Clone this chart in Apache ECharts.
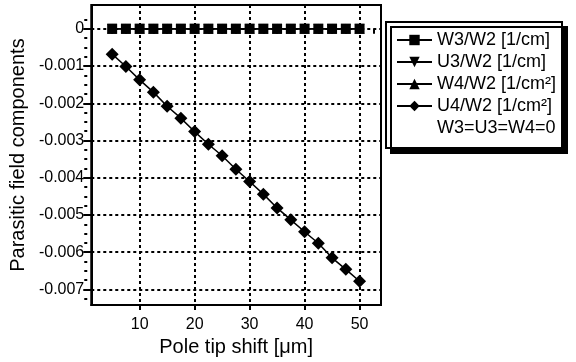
<!DOCTYPE html>
<html>
<head>
<meta charset="utf-8">
<script src="https://cdn.jsdelivr.net/npm/echarts@6/dist/echarts.min.js"></script>
<style>
  html, body { margin: 0; padding: 0; background: #fff; }
  #chart { width: 576px; height: 362px; }
</style>
</head>
<body>
<div id="chart"></div>
<script>
// pole tip shift [um]
const shift = [5, 7.5, 10, 12.5, 15, 17.5, 20, 22.5, 25, 27.5, 30, 32.5, 35, 37.5, 40, 42.5, 45, 47.5, 50];
const w3 = [0, 0, 0, 0, 0, 0, 0, 0, 0, 0, 0, 0, 0, 0, 0, 0, 0, 0, 0];
const u3 = [0, 0, 0, 0, 0, 0, 0, 0, 0, 0, 0, 0, 0, 0, 0, 0, 0, 0, 0];
const w4 = [0, 0, 0, 0, 0, 0, 0, 0, 0, 0, 0, 0, 0, 0, 0, 0, 0, 0, 0];
const u4 = [-0.00068, -0.00101, -0.00137, -0.0017, -0.00208, -0.0024, -0.00276, -0.0031, -0.00341, -0.00377,
  -0.0041, -0.00444, -0.00481, -0.00513, -0.00545, -0.00576, -0.00615, -0.00646, -0.00678];

const xTicks = [10, 20, 30, 40, 50];
const xMinor = [5, 7.5, 12.5, 15, 17.5, 22.5, 25, 27.5, 32.5, 35, 37.5, 42.5, 45, 47.5, 52.5];
const yTicks = [0, -0.001, -0.002, -0.003, -0.004, -0.005, -0.006, -0.007];
const yMinor = [0.00025, -0.00025, -0.0005, -0.00075, -0.00125, -0.0015, -0.00175, -0.00225, -0.0025, -0.00275,
  -0.00325, -0.0035, -0.00375, -0.00425, -0.0045, -0.00475, -0.00525, -0.0055, -0.00575,
  -0.00625, -0.0065, -0.00675, -0.00725];

const font = 'Liberation Sans';
const xRange = { min: 1.2, max: 53.9 };
const yRange = { min: -0.00742, max: 0.00064 };

const pairs = (ys) => shift.map((x, i) => [x, ys[i]]);
const gridDash = { color: '#000', width: 2, type: [3, 3] };

const chart = echarts.init(document.getElementById('chart'));

chart.setOption({
  animation: false,
  textStyle: { fontFamily: font, color: '#000' },
  grid: {
    left: 91, right: 195, top: 5, bottom: 56,
    show: true, borderColor: '#000', borderWidth: 2, backgroundColor: 'transparent'
  },
  xAxis: [
    {
      type: 'value', ...xRange,
      name: 'Pole tip shift [μm]', nameLocation: 'middle', nameGap: 30,
      nameTextStyle: { fontSize: 20, color: '#000', fontFamily: font },
      axisLine: { show: true, onZero: false, lineStyle: { color: '#000', width: 2 } },
      axisTick: { show: true, length: 5, customValues: xTicks, lineStyle: { color: '#000', width: 2 } },
      axisLabel: { customValues: xTicks, fontSize: 16, color: '#000', margin: 11, fontFamily: font },
      splitLine: { show: true, lineStyle: gridDash }
    },
    {
      // minor ticks
      type: 'value', ...xRange, position: 'bottom',
      axisLine: { show: false },
      axisTick: { show: true, length: 5, customValues: xMinor, lineStyle: { color: '#000', width: 2 } },
      axisLabel: { show: false },
      splitLine: { show: false }
    }
  ],
  yAxis: [
    {
      type: 'value', ...yRange,
      name: 'Parasitic field components', nameLocation: 'middle', nameGap: 56,
      nameTextStyle: { fontSize: 20, color: '#000', fontFamily: font },
      axisLine: { show: true, onZero: false, lineStyle: { color: '#000', width: 2 } },
      axisTick: { show: true, length: 8, customValues: yTicks, lineStyle: { color: '#000', width: 2 } },
      axisLabel: { customValues: yTicks, fontSize: 16, color: '#000', margin: 7, fontFamily: font },
      splitLine: { show: true, lineStyle: gridDash }
    },
    {
      // minor ticks
      type: 'value', ...yRange, position: 'left', offset: 4,
      axisLine: { show: false },
      axisTick: { show: true, length: 3, customValues: yMinor, lineStyle: { color: '#000', width: 2 } },
      axisLabel: { show: false },
      splitLine: { show: false }
    }
  ],
  legend: {
    orient: 'vertical',
    left: 386, top: 22,
    padding: [9, 6, 11, 10],
    itemWidth: 35, itemHeight: 13, itemGap: 4,
    backgroundColor: '#fff',
    borderColor: '#000', borderWidth: 2,
    shadowColor: '#000', shadowBlur: 0, shadowOffsetX: 5, shadowOffsetY: 5,
    textStyle: { fontSize: 18, color: '#000', fontFamily: font },
    data: [
      { name: 'W3/W2 [1/cm]' },
      { name: 'U3/W2 [1/cm]' },
      { name: 'W4/W2 [1/cm²]' },
      { name: 'U4/W2 [1/cm²]' },
      { name: 'W3=U3=W4=0', icon: 'none' }
    ]
  },
  series: [
    {
      name: 'U4/W2 [1/cm²]', type: 'line', data: pairs(u4),
      symbol: 'diamond', symbolSize: 13,
      itemStyle: { color: '#000' }, lineStyle: { color: '#000', width: 1.5 }
    },
    {
      name: 'W4/W2 [1/cm²]', type: 'line', data: pairs(w4),
      symbol: 'triangle', symbolSize: 10,
      itemStyle: { color: '#000' }, lineStyle: { color: '#000', width: 1.5 }
    },
    {
      name: 'U3/W2 [1/cm]', type: 'line', data: pairs(u3),
      symbol: 'triangle', symbolRotate: 180, symbolSize: 10,
      itemStyle: { color: '#000' }, lineStyle: { color: '#000', width: 1.5 }
    },
    {
      name: 'W3/W2 [1/cm]', type: 'line', data: pairs(w3),
      symbol: 'rect', symbolSize: 10,
      itemStyle: { color: '#000' }, lineStyle: { color: '#000', width: 1.5 }
    },
    {
      name: 'W3=U3=W4=0', type: 'line', data: [],
      symbol: 'none', lineStyle: { width: 0 }
    }
  ]
});
</script>
</body>
</html>
